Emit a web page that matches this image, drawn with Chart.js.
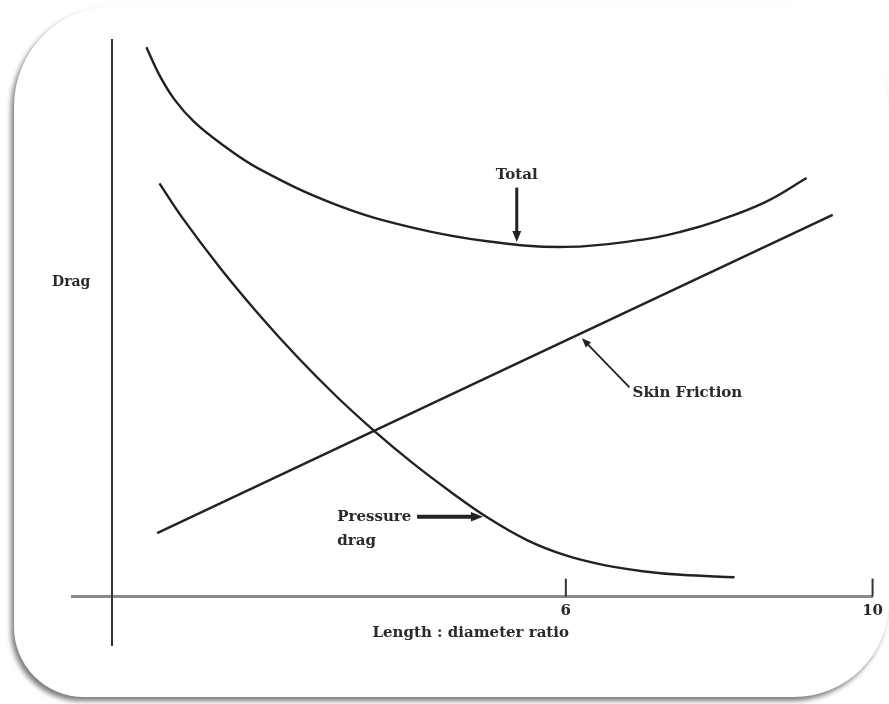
<!DOCTYPE html>
<html>
<head>
<meta charset="utf-8">
<script src="https://cdn.jsdelivr.net/npm/chart.js@4"></script>
<style>
  html, body { margin: 0; padding: 0; background: #fff; }
  #wrap { position: relative; width: 889px; height: 704px; overflow: hidden; }
  #frame {
    position: absolute; left: 14px; top: 6px; width: 875px; height: 691px;
    background: #fff;
    border-radius: 100px 105px 95px 70px;
    box-shadow: -3px 4px 5px rgba(0,0,0,0.5);
  }
  canvas { position: absolute; left: 0; top: 0; }
</style>
</head>
<body>
<div id="wrap">
  <div id="frame"></div>
  <canvas id="dragChart" width="889" height="704"></canvas>
</div>
<script>
// tick labels on the ratio axis
const xTicks = [6, 10];

// Total drag
const totalX = [0.53, 0.7, 0.9, 1.15, 1.5, 2.0, 3.0, 4.0, 5.0, 6.0, 7.0, 7.5, 8.0, 8.6, 9.14];
const totalY = [9.08, 8.62, 8.21, 7.85, 7.49, 7.07, 6.48, 6.10, 5.87, 5.78, 5.90, 6.03, 6.22, 6.52, 6.92];

// Pressure drag
const pressureX = [0.70, 1.0, 1.5, 2.0, 2.5, 3.0, 3.5, 4.0, 4.5, 5.0, 5.5, 6.0, 6.5, 7.0, 7.5, 8.2];
const pressureY = [6.83, 6.26, 5.42, 4.66, 3.96, 3.32, 2.74, 2.21, 1.73, 1.29, 0.93, 0.68, 0.52, 0.42, 0.36, 0.32];

// Skin friction (straight line)
const skinX = [0.67, 9.48];
const skinY = [1.05, 6.31];

const toPoints = (xs, ys) => xs.map((x, i) => ({ x: x, y: ys[i] }));

const FONT = "'DejaVu Serif', 'Liberation Serif', serif";
const INK = "#222";

function arrow(ctx, x1, y1, x2, y2, width, head) {
  const a = Math.atan2(y2 - y1, x2 - x1);
  ctx.save();
  ctx.strokeStyle = INK;
  ctx.fillStyle = INK;
  ctx.lineWidth = width;
  ctx.beginPath();
  ctx.moveTo(x1, y1);
  ctx.lineTo(x2 - Math.cos(a) * head * 0.8, y2 - Math.sin(a) * head * 0.8);
  ctx.stroke();
  ctx.beginPath();
  ctx.moveTo(x2, y2);
  ctx.lineTo(x2 - Math.cos(a - 0.38) * head, y2 - Math.sin(a - 0.38) * head);
  ctx.lineTo(x2 - Math.cos(a + 0.38) * head, y2 - Math.sin(a + 0.38) * head);
  ctx.closePath();
  ctx.fill();
  ctx.restore();
}

const notes = {
  id: "notes",
  afterDraw(chart) {
    const ctx = chart.ctx;
    const xs = chart.scales.x, ys = chart.scales.y;
    const px = v => xs.getPixelForValue(v);
    const py = v => ys.getPixelForValue(v);

    // tick marks pointing up from the axis
    ctx.save();
    ctx.strokeStyle = "#333";
    ctx.lineWidth = 2;
    xTicks.forEach(v => {
      ctx.beginPath();
      ctx.moveTo(px(v), py(0) - 18);
      ctx.lineTo(px(v), py(0));
      ctx.stroke();
    });
    ctx.restore();

    ctx.save();
    ctx.fillStyle = "#2a2a2a";
    ctx.font = "bold 15px " + FONT;
    ctx.textBaseline = "middle";

    ctx.textAlign = "center";
    ctx.fillText("Total", px(5.36), py(6.97));
    ctx.fillText("Length : diameter ratio", px(4.76), py(-0.60));

    ctx.textAlign = "left";
    ctx.fillText("Skin Friction", px(6.87), py(3.36));
    ctx.fillText("Pressure", px(3.02), py(1.32));
    ctx.fillText("drag", px(3.02), py(0.92));
    ctx.font = "bold 14px " + FONT;
    ctx.fillText("Drag", 52, 282);
    ctx.restore();

    arrow(ctx, px(5.36), py(6.76), px(5.36), py(5.86), 3, 12);
    arrow(ctx, px(6.83), py(3.46), px(6.21), py(4.27), 1.8, 10);
    arrow(ctx, px(4.06), py(1.32), px(4.92), py(1.32), 4, 13);
  }
};

const lineStyle = {
  showLine: true,
  pointRadius: 0,
  borderColor: INK,
  borderWidth: 2.4,
  tension: 0.4,
  fill: false
};

new Chart(document.getElementById("dragChart"), {
  type: "scatter",
  data: {
    datasets: [
      Object.assign({ label: "Total", data: toPoints(totalX, totalY) }, lineStyle),
      Object.assign({ label: "Pressure drag", data: toPoints(pressureX, pressureY) }, lineStyle),
      Object.assign({ label: "Skin Friction", data: toPoints(skinX, skinY) }, lineStyle)
    ]
  },
  options: {
    responsive: false,
    animation: false,
    layout: { padding: { left: 72, right: 16, top: 40, bottom: 59 } },
    plugins: {
      legend: { display: false },
      tooltip: { enabled: false }
    },
    scales: {
      x: {
        type: "linear",
        min: -0.44,
        max: 10,
        position: { y: 0 },
        afterBuildTicks: s => { s.ticks = xTicks.map(v => ({ value: v })); },
        grid: { display: false, drawTicks: false },
        border: { display: true, color: "#8a8a8a", width: 3 },
        ticks: { color: "#2a2a2a", padding: 6, font: { family: FONT, size: 15, weight: "bold" } }
      },
      y: {
        type: "linear",
        min: -0.8,
        max: 9.2,
        position: { x: 0.08 },
        grid: { display: false, drawTicks: false },
        border: { display: true, color: "#333", width: 2 },
        ticks: { display: false }
      }
    }
  },
  plugins: [notes]
});
</script>
</body>
</html>
